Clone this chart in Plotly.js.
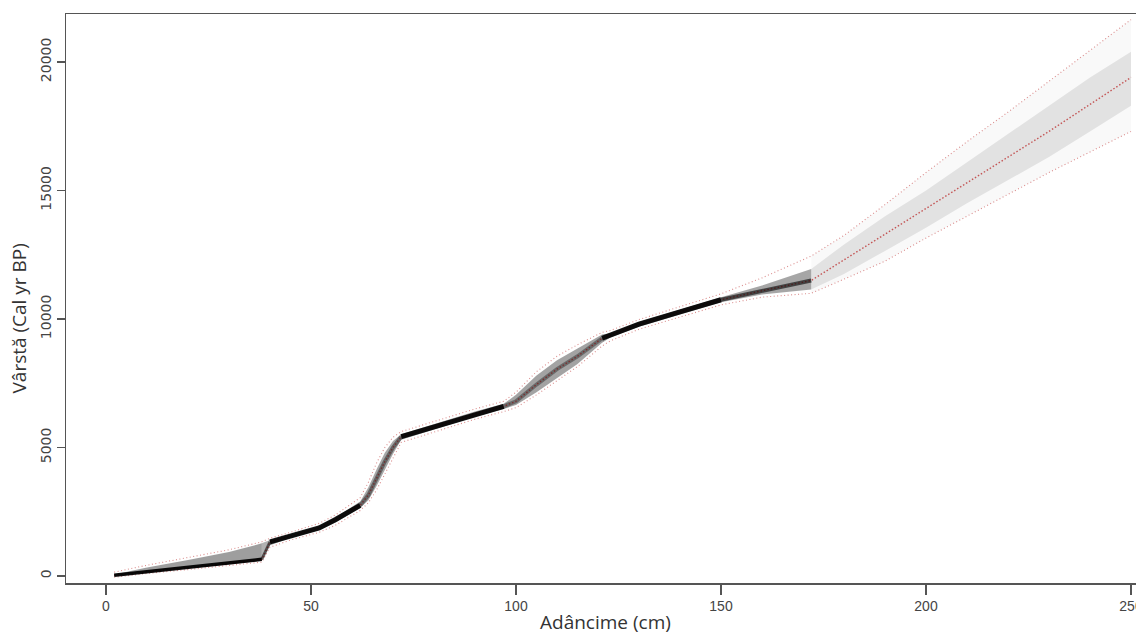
<!DOCTYPE html>
<html>
<head>
<meta charset="utf-8">
<script src="https://cdn.plot.ly/plotly-3.0.1.min.js"></script>
<style>
html, body { margin: 0; padding: 0; overflow: hidden; background: #fff; }
#chart { width: 1150px; height: 634px; }
</style>
</head>
<body>
<div id="chart"></div>
<script>
// Depth (cm)
const depth = [2, 10, 20, 30, 38, 40, 45, 52, 56, 62, 64, 66, 68, 70, 72, 80, 90, 97, 100, 105, 110, 115, 121, 123, 130, 140, 150, 160, 172, 180, 190, 200, 210, 220, 230, 240, 250];
// Most probable (dense) age path (cal yr BP)
const ageMean = [30, 170, 330, 490, 650, 1330, 1550, 1870, 2200, 2750, 3150, 3800, 4450, 5000, 5420, 5800, 6300, 6600, 6800, 7450, 8050, 8550, 9250, 9370, 9800, 10280, 10750, 11100, 11500, 12300, 13300, 14300, 15300, 16300, 17300, 18350, 19400];
// Grey probability band edges
const shadeHigh = [60, 330, 620, 930, 1270, 1400, 1620, 1950, 2280, 2900, 3450, 4150, 4800, 5250, 5520, 5900, 6400, 6700, 7050, 7800, 8400, 8850, 9400, 9450, 9880, 10380, 10850, 11300, 11950, 12900, 14000, 15000, 16100, 17200, 18300, 19400, 20400];
const shadeLow = [0, 150, 300, 450, 600, 1200, 1480, 1790, 2080, 2650, 2950, 3500, 4150, 4750, 5300, 5700, 6200, 6500, 6650, 7150, 7700, 8250, 9080, 9280, 9700, 10180, 10650, 10950, 11150, 11750, 12650, 13550, 14500, 15400, 16300, 17300, 18300];
// Confidence bounds (red dotted)
const ageMax = [150, 420, 720, 1020, 1330, 1470, 1700, 2050, 2380, 3050, 3650, 4400, 5000, 5400, 5620, 6000, 6500, 6800, 7150, 7950, 8550, 9000, 9480, 9550, 9980, 10480, 10980, 11600, 12450, 13250, 14450, 15700, 16900, 18050, 19250, 20450, 21650];
const ageMin = [-50, 100, 250, 400, 540, 1120, 1400, 1700, 1980, 2550, 2850, 3350, 3950, 4600, 5200, 5600, 6100, 6400, 6550, 7050, 7600, 8150, 8950, 9150, 9600, 10080, 10550, 10850, 11000, 11550, 12250, 13150, 14000, 14850, 15700, 16500, 17300];

const xTicks = [0, 50, 100, 150, 200, 250];
const yTicks = [0, 5000, 10000, 15000, 20000];
const xTitle = 'Adâncime (cm)';
const yTitle = 'Vârstă (Cal yr BP)';

// Segment styling (depth ranges)
const segments = [
  {from: 2,   to: 38,  band: 0.38, core: 'rgba(0,0,0,0.95)', w: 3.5},
  {from: 38,  to: 40,  band: 0.30, core: 'rgba(0,0,0,0.55)', w: 3},
  {from: 40,  to: 62,  band: 0.40, core: 'rgba(0,0,0,0.92)', w: 5},
  {from: 62,  to: 72,  band: 0.34, core: 'rgba(0,0,0,0.40)', w: 4},
  {from: 72,  to: 97,  band: 0.40, core: 'rgba(0,0,0,0.92)', w: 5},
  {from: 97,  to: 121, band: 0.36, core: 'rgba(0,0,0,0.35)', w: 4},
  {from: 121, to: 150, band: 0.40, core: 'rgba(0,0,0,0.92)', w: 5},
  {from: 150, to: 172, band: 0.35, core: 'rgba(0,0,0,0.6)', w: 4},
  {from: 172, to: 250, band: 0.09, core: null}
];

function sub(arr, a, b) {
  const out = [];
  for (let i = 0; i < depth.length; i++) if (depth[i] >= a && depth[i] <= b) out.push(arr[i]);
  return out;
}

const traces = [];
// faint haze out to the confidence bounds in the extrapolated part
traces.push({x: sub(depth, 172, 250), y: sub(ageMin, 172, 250), mode: 'lines', line: {width: 0, color: 'rgba(0,0,0,0)'}, hoverinfo: 'skip', showlegend: false});
traces.push({x: sub(depth, 172, 250), y: sub(ageMax, 172, 250), mode: 'lines', line: {width: 0, color: 'rgba(0,0,0,0)'}, fill: 'tonexty', fillcolor: 'rgba(0,0,0,0.025)', hoverinfo: 'skip', showlegend: false});
segments.forEach(s => {
  const xs = sub(depth, s.from, s.to);
  traces.push({x: xs, y: sub(shadeLow, s.from, s.to), mode: 'lines', line: {width: 0, color: 'rgba(0,0,0,0)'}, hoverinfo: 'skip', showlegend: false});
  traces.push({x: xs, y: sub(shadeHigh, s.from, s.to), mode: 'lines', line: {width: 0, color: 'rgba(0,0,0,0)'}, fill: 'tonexty', fillcolor: 'rgba(0,0,0,' + s.band + ')', hoverinfo: 'skip', showlegend: false});
});
// red dotted bounds
const dotLine = {color: 'rgba(200,80,80,0.65)', width: 1.1, dash: '1px,2.5px'};
traces.push({x: depth, y: ageMax, mode: 'lines', line: dotLine, showlegend: false});
traces.push({x: depth, y: ageMin, mode: 'lines', line: dotLine, showlegend: false});
// red dotted mean
traces.push({x: depth, y: ageMean, mode: 'lines', line: {color: 'rgba(190,60,60,0.85)', width: 1.4, dash: '1.5px,2px'}, showlegend: false});
// dark core segments
segments.forEach(s => {
  if (!s.core) return;
  traces.push({x: sub(depth, s.from, s.to), y: sub(ageMean, s.from, s.to), mode: 'lines', line: {color: s.core, width: s.w}, showlegend: false});
});

const pxPerCm = 4.1;
const plotW = 1150 - 66;
const xLeft = -40 / pxPerCm;

const layout = {
  width: 1150, height: 634,
  margin: {l: 66, r: 0, t: 14, b: 51},
  paper_bgcolor: '#fff', plot_bgcolor: '#fff',
  showlegend: false,
  xaxis: {
    range: [xLeft, xLeft + plotW / pxPerCm],
    tickvals: xTicks, ticktext: xTicks.map(String),
    ticks: 'outside', ticklen: 10, tickwidth: 1.3, tickcolor: '#555',
    showline: true, linecolor: '#555', linewidth: 1.5, mirror: true,
    showgrid: false, zeroline: false,
    tickfont: {family: 'Liberation Sans, Arial, sans-serif', size: 14, color: '#444'}
  },
  yaxis: {
    range: [-272, 21868],
    tickvals: yTicks, ticktext: yTicks.map(String),
    ticks: 'outside', ticklen: 8, tickwidth: 1.3, tickcolor: '#555', tickangle: -90,
    showline: true, linecolor: '#555', linewidth: 1.5, mirror: true,
    showgrid: false, zeroline: false,
    tickfont: {family: 'DejaVu Sans, sans-serif', size: 14, color: '#444'}
  },
  annotations: [
    {text: xTitle, xref: 'paper', yref: 'paper', x: 0.5, y: 0, xanchor: 'center', yanchor: 'middle',
     xshift: -3, yshift: -39, showarrow: false,
     font: {family: 'Open Sans, sans-serif', size: 19, color: '#333'}},
    {text: yTitle, xref: 'paper', yref: 'paper', x: 0, y: 0.5, xanchor: 'center', yanchor: 'middle',
     xshift: -48, yshift: -20, textangle: -90, showarrow: false,
     font: {family: 'Open Sans, sans-serif', size: 19, color: '#333'}}
  ]
};

Plotly.newPlot('chart', traces, layout, {displayModeBar: false, staticPlot: true});
</script>
</body>
</html>
